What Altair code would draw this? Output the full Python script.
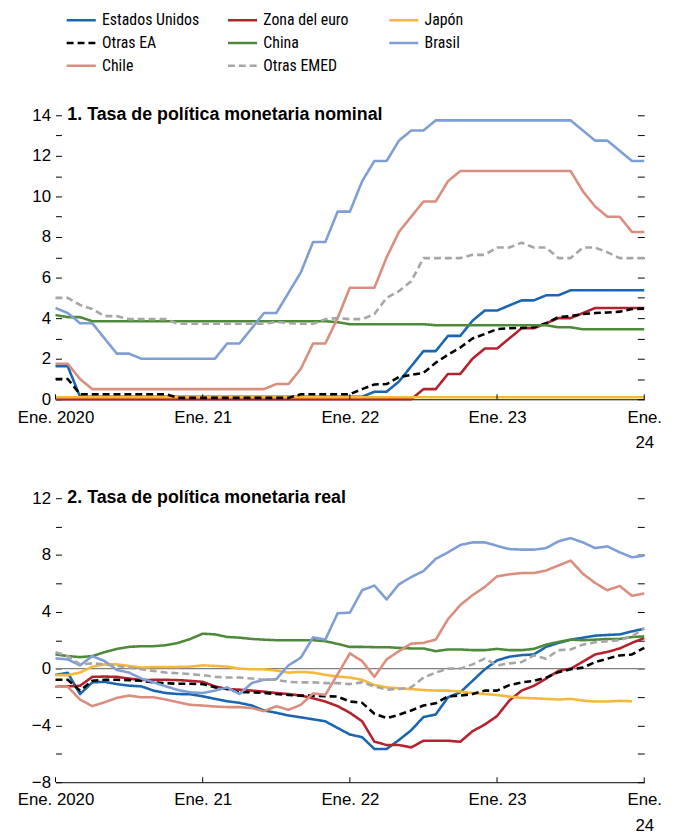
import json
import altair as alt
import pandas as pd

# ---------------- data ----------------
SERIES = ["Estados Unidos", "Zona del euro", "Japón", "Otras EA",
          "China", "Brasil", "Chile", "Otras EMED"]
COLORS = ["#1a66b0", "#b5222d", "#f5b937", "#000000",
          "#4e8a3a", "#7e9ed6", "#d98e7e", "#a6a6a6"]
DASHES = [[1, 0], [1, 0], [1, 0], [7, 4], [1, 0], [1, 0], [1, 0], [7, 4]]
WIDTHS = [2.6, 2.6, 2.6, 2.8, 2.6, 2.6, 2.6, 2.6]

# month index 0 = Ene. 2020 ... 48 = Ene. 2024
XTICKS = [0, 12, 24, 36, 48]
XLABELS = ["Ene. 2020", "Ene. 21", "Ene. 22", "Ene. 23", ["Ene.", "24"]]

TITLE1 = "1. Tasa de política monetaria nominal"
TITLE2 = "2. Tasa de política monetaria real"
Y1_TICKS = list(range(0, 15))
Y2_TICKS = [-8, -6, -4, -2, 0, 2, 4, 6, 8, 10, 12]

# Panel 1: nominal
US_NOM = [1.625, 1.625, 0.125, 0.125, 0.125, 0.125, 0.125, 0.125, 0.125, 0.125,
          0.125, 0.125, 0.125, 0.125, 0.125, 0.125, 0.125, 0.125, 0.125, 0.125,
          0.125, 0.125, 0.125, 0.125, 0.125, 0.125, 0.375, 0.375, 0.875, 1.625,
          2.375, 2.375, 3.125, 3.125, 3.875, 4.375, 4.375, 4.625, 4.875, 4.875,
          5.125, 5.125, 5.375, 5.375, 5.375, 5.375, 5.375, 5.375, 5.375]
EURO_NOM = [0, 0, 0, 0, 0, 0, 0, 0, 0, 0,
            0, 0, 0, 0, 0, 0, 0, 0, 0, 0,
            0, 0, 0, 0, 0, 0, 0, 0, 0, 0,
            0.5, 0.5, 1.25, 1.25, 2.0, 2.5, 2.5, 3.0, 3.5, 3.5,
            3.75, 4.0, 4.0, 4.25, 4.5, 4.5, 4.5, 4.5, 4.5]
JAPAN_NOM = [0.1, 0.1, 0.1, 0.1, 0.1, 0.1, 0.1, 0.1, 0.1, 0.1,
             0.1, 0.1, 0.1, 0.1, 0.1, 0.1, 0.1, 0.1, 0.1, 0.1,
             0.1, 0.1, 0.1, 0.1, 0.1, 0.1, 0.1, 0.1, 0.1, 0.1,
             0.1, 0.1, 0.1, 0.1, 0.1, 0.1, 0.1, 0.1, 0.1, 0.1,
             0.1, 0.1, 0.1, 0.1, 0.1, 0.1, 0.1, 0.1, 0.1]
OTRAS_EA_NOM = [1.0, 1.0, 0.25, 0.25, 0.25, 0.25, 0.25, 0.25, 0.25, 0.25,
                0.07, 0.07, 0.07, 0.07, 0.07, 0.07, 0.07, 0.07, 0.07, 0.07,
                0.25, 0.25, 0.25, 0.25, 0.25, 0.5, 0.73, 0.75, 1.1, 1.2,
                1.3, 1.8, 2.2, 2.55, 3.0, 3.22, 3.46, 3.5, 3.52, 3.55,
                3.75, 4.05, 4.1, 4.2, 4.25, 4.28, 4.32, 4.45, 4.47]
CHINA_NOM = [4.15, 4.05, 4.05, 3.85, 3.85, 3.85, 3.85, 3.85, 3.85, 3.85,
             3.85, 3.85, 3.85, 3.85, 3.85, 3.85, 3.85, 3.85, 3.85, 3.85,
             3.85, 3.85, 3.85, 3.8, 3.7, 3.7, 3.7, 3.7, 3.7, 3.7,
             3.7, 3.65, 3.65, 3.65, 3.65, 3.65, 3.65, 3.65, 3.65, 3.65,
             3.65, 3.55, 3.55, 3.45, 3.45, 3.45, 3.45, 3.45, 3.45]
BRASIL_NOM = [4.5, 4.25, 3.75, 3.75, 3.0, 2.25, 2.25, 2.0, 2.0, 2.0,
              2.0, 2.0, 2.0, 2.0, 2.75, 2.75, 3.5, 4.25, 4.25, 5.25,
              6.25, 7.75, 7.75, 9.25, 9.25, 10.75, 11.75, 11.75, 12.75, 13.25,
              13.25, 13.75, 13.75, 13.75, 13.75, 13.75, 13.75, 13.75, 13.75, 13.75,
              13.75, 13.75, 13.75, 13.25, 12.75, 12.75, 12.25, 11.75, 11.75]
CHILE_NOM = [1.75, 1.75, 1.0, 0.5, 0.5, 0.5, 0.5, 0.5, 0.5, 0.5,
             0.5, 0.5, 0.5, 0.5, 0.5, 0.5, 0.5, 0.5, 0.75, 0.75,
             1.5, 2.75, 2.75, 4.0, 5.5, 5.5, 5.5, 7.0, 8.25, 9.0,
             9.75, 9.75, 10.75, 11.25, 11.25, 11.25, 11.25, 11.25, 11.25, 11.25,
             11.25, 11.25, 11.25, 10.25, 9.5, 9.0, 9.0, 8.25, 8.25]
EMED_NOM = [5.0, 5.0, 4.65, 4.45, 4.1, 4.1, 3.95, 3.95, 3.95, 3.95,
            3.72, 3.72, 3.72, 3.72, 3.72, 3.72, 3.72, 3.72, 3.82, 3.75,
            3.72, 3.72, 3.95, 4.0, 3.95, 3.95, 4.2, 5.0, 5.33, 5.82,
            6.96, 6.96, 6.96, 6.96, 7.12, 7.12, 7.48, 7.48, 7.72, 7.48,
            7.48, 6.96, 6.96, 7.48, 7.48, 7.24, 6.96, 6.96, 6.96]

# Panel 2: real
US_REAL = [-0.44, -0.3, -1.79, -0.97, -0.93, -1.09, -1.2, -1.25, -1.55, -1.72,
           -1.79, -1.81, -1.95, -2.13, -2.3, -2.41, -2.6, -2.95, -3.11, -3.3,
           -3.43, -3.57, -3.71, -4.18, -4.64, -4.83, -5.66, -5.66, -5.03, -4.34,
           -3.41, -3.23, -2.02, -1.67, -0.86, -0.05, 0.58, 0.84, 0.95, 1.0,
           1.53, 1.81, 2.04, 2.18, 2.32, 2.37, 2.41, 2.62, 2.81]
EURO_REAL = [-1.28, -1.25, -1.21, -0.58, -0.56, -0.58, -0.7, -0.81, -0.79, -0.79,
             -0.81, -0.86, -0.93, -1.25, -1.44, -1.48, -1.55, -1.62, -1.72, -1.79,
             -1.9, -2.09, -2.32, -2.64, -3.11, -3.71, -5.15, -5.38, -5.38, -5.55,
             -5.08, -5.08, -5.08, -5.15, -4.41, -3.94, -3.34, -2.25, -1.55, -1.21,
             -0.7, -0.16, 0.0, 0.49, 1.0, 1.18, 1.42, 1.81, 2.16]
JAPAN_REAL = [-0.46, -0.46, -0.28, 0.14, 0.3, 0.3, 0.19, 0.07, 0.12, 0.12,
              0.12, 0.14, 0.23, 0.19, 0.14, 0.0, -0.05, -0.05, -0.14, -0.28,
              -0.23, -0.28, -0.44, -0.56, -0.63, -0.79, -1.16, -1.32, -1.39, -1.44,
              -1.51, -1.55, -1.55, -1.62, -1.72, -1.79, -1.86, -1.97, -2.06, -2.09,
              -2.13, -2.18, -2.13, -2.25, -2.32, -2.32, -2.27, -2.3]
OTRAS_EA_REAL = [-0.79, -0.79, -1.55, -0.86, -0.79, -0.79, -0.81, -0.86, -0.97, -1.02,
                 -1.07, -1.07, -1.09, -1.32, -1.44, -1.67, -1.67, -1.72, -1.79, -1.86,
                 -1.9, -1.9, -1.95, -1.97, -2.32, -2.41, -3.18, -3.48, -3.25, -2.95,
                 -2.6, -2.44, -1.95, -1.9, -1.79, -1.55, -1.55, -1.16, -0.97, -0.86,
                 -0.63, -0.25, -0.05, 0.07, 0.46, 0.7, 0.93, 1.0, 1.46]
CHINA_REAL = [1.0, 0.88, 0.81, 0.88, 1.16, 1.39, 1.53, 1.58, 1.58, 1.65,
              1.81, 2.09, 2.46, 2.41, 2.23, 2.18, 2.09, 2.04, 2.0, 2.0,
              2.0, 2.0, 1.93, 1.74, 1.53, 1.53, 1.51, 1.51, 1.46, 1.42,
              1.42, 1.23, 1.35, 1.35, 1.3, 1.3, 1.39, 1.3, 1.3, 1.39,
              1.69, 1.88, 2.04, 2.0, 2.04, 2.09, 2.09, 2.23, 2.27]
BRASIL_REAL = [0.72, 0.65, 0.23, 0.88, 0.53, -0.09, -0.28, -0.7, -0.97, -1.25,
               -1.51, -1.67, -1.72, -1.55, -1.32, -1.79, -1.02, -0.79, -0.74, 0.23,
               0.77, 2.2, 2.04, 3.9, 3.94, 5.52, 5.85, 4.87, 5.94, 6.45,
               6.87, 7.73, 8.19, 8.7, 8.89, 8.89, 8.65, 8.42, 8.38, 8.38,
               8.49, 8.96, 9.19, 8.89, 8.49, 8.61, 8.19, 7.84, 7.96]
CHILE_REAL = [-1.28, -1.28, -2.18, -2.64, -2.37, -2.06, -1.9, -2.02, -2.02, -2.18,
              -2.37, -2.55, -2.6, -2.67, -2.71, -2.71, -2.78, -3.0, -2.65, -2.9,
              -2.55, -1.75, -1.85, -0.4, 1.07, 0.53, -0.58, 0.65, 1.23, 1.76,
              1.81, 2.04, 3.48, 4.48, 5.17, 5.75, 6.5, 6.64, 6.73, 6.73,
              6.91, 7.26, 7.61, 6.68, 6.03, 5.52, 5.82, 5.13, 5.29]
EMED_REAL = [1.16, 0.88, 0.3, 0.37, 0.3, 0.19, 0.07, -0.05, -0.16, -0.28,
             -0.32, -0.39, -0.46, -0.58, -0.63, -0.63, -0.7, -0.79, -0.79, -0.93,
             -0.97, -0.97, -1.02, -1.02, -1.09, -0.97, -1.25, -1.48, -1.44, -1.32,
             -0.63, -0.28, 0.0, 0.0, 0.3, 0.7, 0.23, 0.37, 0.46, 0.93,
             0.7, 1.3, 1.35, 1.69, 1.86, 1.93, 2.0, 2.27, 2.85]

NOMINAL = dict(zip(SERIES, [US_NOM, EURO_NOM, JAPAN_NOM, OTRAS_EA_NOM,
                            CHINA_NOM, BRASIL_NOM, CHILE_NOM, EMED_NOM]))
REAL = dict(zip(SERIES, [US_REAL, EURO_REAL, JAPAN_REAL, OTRAS_EA_REAL,
                         CHINA_REAL, BRASIL_REAL, CHILE_REAL, EMED_REAL]))


def to_long(d):
    rows = []
    for order, s in enumerate(SERIES):
        for i, v in enumerate(d[s]):
            rows.append({"m": i, "serie": s, "v": v, "o": order})
    return pd.DataFrame(rows)


# ---------------- style ----------------
FONT_N = "Liberation Sans Narrow, Arial Narrow, Roboto Condensed, sans-serif"
FONT_W = "Liberation Sans, Arial, sans-serif"
W, H = 595, 287
LABEL_EXPR = json.dumps(XLABELS) + "[round(datum.value / 12)]"


def panel(d, ydom, yticks, title, label_every, show_legend, zero_line):
    df = to_long(d)
    xscale = alt.Scale(domain=[0, 48], nice=False, zero=False)
    yscale = alt.Scale(domain=ydom, nice=False, zero=False)
    xaxis = alt.Axis(values=XTICKS, labelExpr=LABEL_EXPR, tickSize=0,
                     grid=False, domainColor="#000000", domainWidth=1,
                     labelFont=FONT_W, labelFontSize=17, labelColor="#000000",
                     labelPadding=10, labelLineHeight=26, labelFlush=False,
                     labelOverlap=False, title=None)
    yaxis_left = alt.Axis(values=yticks,
                          labelExpr=f"datum.value % {label_every} == 0 ? replace(datum.label, '-', '\u2212') : ''",
                          orient="left", tickSize=6, offset=-6, domain=False,
                          grid=False, tickColor="#000000", labelFont=FONT_W,
                          labelFontSize=17, labelColor="#000000",
                          labelPadding=5, title=None)
    yaxis_right = alt.Axis(values=yticks, labels=False, orient="right",
                           tickSize=7, offset=-7, domain=False, grid=False,
                           tickColor="#000000", title=None)

    if show_legend:
        leg = alt.Legend(orient="none", legendX=14, legendY=-108, columns=3,
                         direction="horizontal",
                         symbolType="M-1.4,0H1.4", symbolSize=441,
                         symbolStrokeWidth=3, labelFont=FONT_N,
                         labelFontSize=16, labelColor="#000000",
                         columnPadding=23, rowPadding=3, gridAlign="all",
                         labelOffset=9, title=None)
    else:
        leg = None

    lines = alt.Chart(df).mark_line(strokeCap="butt", strokeJoin="round").encode(
        x=alt.X("m:Q", scale=xscale, axis=xaxis),
        y=alt.Y("v:Q", scale=yscale, axis=yaxis_left),
        color=alt.Color("serie:N", scale=alt.Scale(domain=SERIES, range=COLORS),
                        legend=leg),
        strokeDash=alt.StrokeDash("serie:N",
                                  scale=alt.Scale(domain=SERIES, range=DASHES),
                                  legend=leg),
        strokeWidth=alt.StrokeWidth("serie:N",
                                    scale=alt.Scale(domain=SERIES, range=WIDTHS),
                                    legend=None),
        order=alt.Order("o:Q"),
    )

    tick_df = pd.DataFrame({"t": yticks})
    right_axis = alt.Chart(tick_df).mark_point(opacity=0).encode(
        y=alt.Y("t:Q", scale=yscale, axis=yaxis_right),
    )

    xt_df = pd.DataFrame({"m": XTICKS})
    xticks = alt.Chart(xt_df).mark_rule(color="#000000", strokeWidth=1).encode(
        x=alt.X("m:Q", scale=xscale, axis=xaxis),
        y=alt.value(H - 5), y2=alt.value(H),
    )

    title_df = pd.DataFrame({"t": [title]})
    title_txt = alt.Chart(title_df).mark_text(
        align="left", baseline="middle", font=FONT_W, fontSize=18,
        fontWeight="bold", color="#000000").encode(
        x=alt.value(12), y=alt.value(0), text="t:N")

    layers = []
    if zero_line:
        z_df = pd.DataFrame({"v": [0]})
        zl = alt.Chart(z_df).mark_rule(color="#808080", strokeWidth=1.5).encode(
            y=alt.Y("v:Q", scale=yscale, axis=None),
            x=alt.value(0), x2=alt.value(W))
        layers.append(zl)
    layers += [lines, right_axis, xticks, title_txt]
    return alt.layer(*layers).resolve_axis(y="independent").properties(
        width=W, height=H)


p1 = panel(NOMINAL, [0, 14], Y1_TICKS, TITLE1, 2, True, False)
p2 = panel(REAL, [-8, 12], Y2_TICKS, TITLE2, 4, False, True)

chart = alt.vconcat(p1, p2, spacing=39).properties(
    padding={"left": 9, "top": -4, "right": 5, "bottom": 5}
).configure_view(stroke=None).configure_legend(labelLimit=0)

chart.save("out.html", embed_options={"renderer": "svg", "actions": False})
